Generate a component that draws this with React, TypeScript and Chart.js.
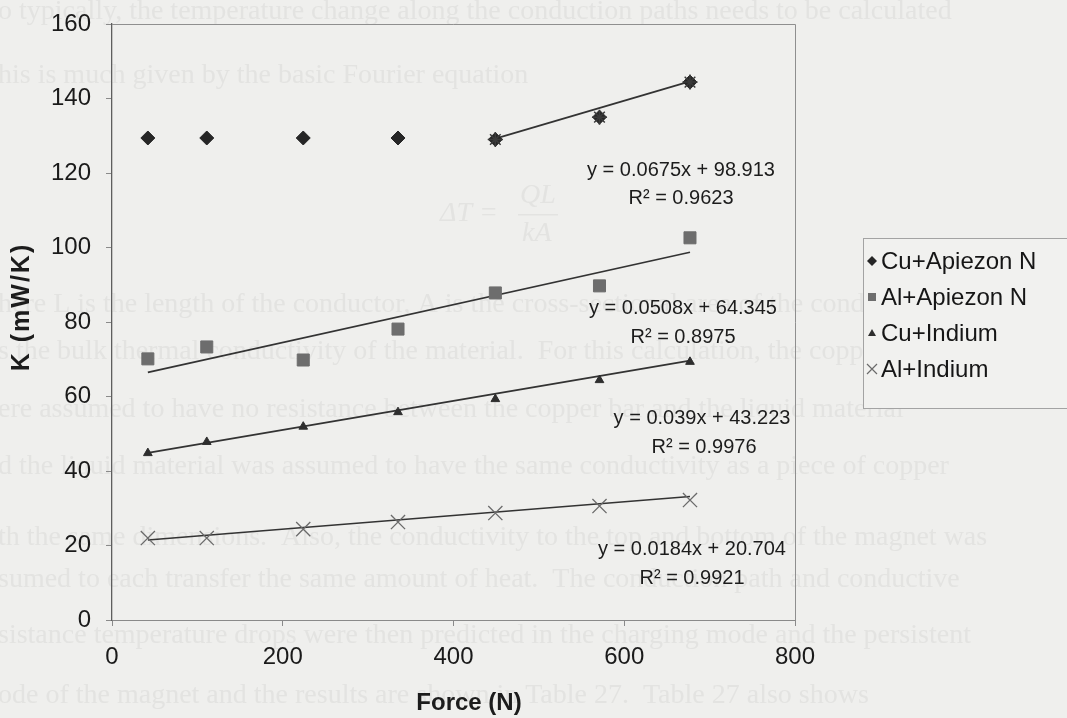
import React, { useEffect, useRef } from "react";
import { Chart, registerables } from "chart.js";

Chart.register(...registerables);

// ---------------- data ----------------
const seriesNames = ["Cu+Apiezon N", "Al+Apiezon N", "Cu+Indium", "Al+Indium"];
const forceN = [42, 111, 224, 335, 449, 571, 677];
const cuApiezon = [129.4, 129.4, 129.4, 129.4, 129.0, 135.0, 144.4];
const alApiezon = [70.1, 73.3, 69.8, 78.1, 87.8, 89.7, 102.6];
const cuIndium = [44.8, 47.8, 51.9, 55.8, 59.3, 64.4, 69.3];
const alIndium = [22.0, 22.0, 24.4, 26.3, 28.7, 30.6, 32.2];
const trendSlopes = [0.0675, 0.0508, 0.039, 0.0184];
const trendIntercepts = [98.913, 64.345, 43.223, 20.704];
const trendRSquared = ["0.9623", "0.8975", "0.9976", "0.9921"];
const trendStartIndex = [4, 0, 0, 0];
const xTickMin = 0;
const xTickMax = 800;
const xTickStep = 200;
const yTickMin = 0;
const yTickMax = 160;
const yTickStep = 20;
const xTitle = "Force (N)";
const yTitle = "K (mW/K)";

// ---------------- styling ----------------
const SANS = "'Liberation Sans', Arial, Helvetica, sans-serif";
const SERIF = "'Liberation Serif', 'Times New Roman', serif";
const BG = "#efefed";
const seriesValues = [cuApiezon, alApiezon, cuIndium, alIndium];
const seriesStyle = [
  { pointStyle: "rectRot", radius: 7, fill: "#262626", stroke: "#262626", width: 1 },
  { pointStyle: "rect", radius: 8.5, fill: "#6d6d6d", stroke: "#6d6d6d", width: 1 },
  { pointStyle: "triangle", radius: 5, fill: "#2e2e2e", stroke: "#2e2e2e", width: 1 },
  { pointStyle: "crossRot", radius: 10, fill: "#6a6a6a", stroke: "#6a6a6a", width: 1.3 },
];
// label centres (pixels) for the trendline equations
const eqPos = [
  { x: 681, y: 170, rx: 681, ry: 198 },
  { x: 683, y: 308, rx: 683, ry: 337 },
  { x: 702, y: 418, rx: 704, ry: 447 },
  { x: 692, y: 549, rx: 692, ry: 578 },
];
// faint show-through text of the scanned page
const pageText = [
  { t: "o typically, the temperature change along the conduction paths needs to be calculated", x: -2, y: 12 },
  { t: "his is much given by the basic Fourier equation", x: -2, y: 76 },
  { t: "here L is the length of the conductor, A is the cross-sectional area of the conductor, and", x: -2, y: 305 },
  { t: "s the bulk thermal conductivity of the material.  For this calculation, the copper bars", x: -2, y: 352 },
  { t: "ere assumed to have no resistance between the copper bar and the liquid material", x: -2, y: 410 },
  { t: "d the liquid material was assumed to have the same conductivity as a piece of copper", x: -2, y: 467 },
  { t: "th the same dimensions.  Also, the conductivity to the top and bottom of the magnet was", x: -2, y: 538 },
  { t: "sumed to each transfer the same amount of heat.  The conduction path and conductive", x: -2, y: 580 },
  { t: "sistance temperature drops were then predicted in the charging mode and the persistent", x: -2, y: 636 },
  { t: "ode of the magnet and the results are shown in Table 27.  Table 27 also shows", x: -2, y: 696 },
];

function drawLegendMarker(ctx: CanvasRenderingContext2D, i: number, x: number, y: number) {
  const s = seriesStyle[i];
  ctx.save();
  ctx.fillStyle = s.fill;
  ctx.strokeStyle = s.stroke;
  ctx.lineWidth = 1.2;
  ctx.beginPath();
  if (i === 0) {
    ctx.moveTo(x, y - 5);
    ctx.lineTo(x + 5, y);
    ctx.lineTo(x, y + 5);
    ctx.lineTo(x - 5, y);
    ctx.closePath();
    ctx.fill();
  } else if (i === 1) {
    ctx.rect(x - 4, y - 4, 8, 8);
    ctx.fill();
  } else if (i === 2) {
    ctx.moveTo(x, y - 4);
    ctx.lineTo(x + 4, y + 3);
    ctx.lineTo(x - 4, y + 3);
    ctx.closePath();
    ctx.fill();
  } else {
    ctx.moveTo(x - 5, y - 5);
    ctx.lineTo(x + 5, y + 5);
    ctx.moveTo(x + 5, y - 5);
    ctx.lineTo(x - 5, y + 5);
    ctx.stroke();
  }
  ctx.restore();
}

const decorPlugin = {
  id: "decor",
  beforeDraw(chart: any) {
    const ctx: CanvasRenderingContext2D = chart.ctx;
    ctx.save();
    ctx.fillStyle = BG;
    ctx.fillRect(0, 0, chart.width, chart.height);
    ctx.fillStyle = "#e3e3e1";
    ctx.font = `28px ${SERIF}`;
    ctx.textBaseline = "middle";
    ctx.textAlign = "left";
    pageText.forEach((l) => ctx.fillText(l.t, l.x, l.y));
    // formula
    ctx.font = `italic 28px ${SERIF}`;
    ctx.fillText("\u0394T =", 440, 214);
    ctx.fillText("QL", 520, 196);
    ctx.fillText("kA", 522, 234);
    ctx.fillRect(518, 214, 40, 1.5);
    ctx.restore();
  },
  afterDraw(chart: any) {
    const ctx: CanvasRenderingContext2D = chart.ctx;
    const a = chart.chartArea;
    ctx.save();
    // top and right frame of the plot area
    ctx.strokeStyle = "#8f8f8f";
    ctx.lineWidth = 1;
    ctx.beginPath();
    ctx.moveTo(a.left, Math.round(a.top) + 0.5);
    ctx.lineTo(Math.round(a.right) + 0.5, Math.round(a.top) + 0.5);
    ctx.lineTo(Math.round(a.right) + 0.5, a.bottom);
    ctx.stroke();

    // trendline equations
    ctx.fillStyle = "#1c1c1c";
    ctx.font = `20px ${SANS}`;
    ctx.textAlign = "center";
    ctx.textBaseline = "middle";
    trendSlopes.forEach((m, i) => {
      const p = eqPos[i];
      ctx.fillText(`y = ${m}x + ${trendIntercepts[i]}`, p.x, p.y);
      ctx.fillText(`R\u00B2 = ${trendRSquared[i]}`, p.rx, p.ry);
    });

    // axis titles
    ctx.font = `bold 24px ${SANS}`;
    ctx.fillText(xTitle, 469, 703);
    ctx.save();
    ctx.translate(22, 307);
    ctx.rotate(-Math.PI / 2);
    ctx.font = `bold 25px ${SANS}`;
    (ctx as any).letterSpacing = "2px";
    ctx.fillText(yTitle, 0, 0);
    ctx.restore();

    // legend
    ctx.fillStyle = "#f1f1ef";
    ctx.fillRect(863, 238, 230, 170);
    ctx.strokeStyle = "#a3a3a3";
    ctx.strokeRect(863.5, 238.5, 230, 170);
    ctx.font = `24px ${SANS}`;
    ctx.textAlign = "left";
    ctx.fillStyle = "#161616";
    seriesNames.forEach((n, i) => {
      const y = 261 + i * 36;
      drawLegendMarker(ctx, i, 872, y);
      ctx.fillText(n, 881, y + 1);
    });
    ctx.restore();
  },
};

export default function App() {
  const ref = useRef<HTMLCanvasElement | null>(null);

  useEffect(() => {
    if (!ref.current) return;
    const last = forceN.length - 1;
    const markerSets: any[] = seriesValues.map((vals, i) => ({
      label: seriesNames[i],
      data: forceN.map((x, k) => ({ x, y: vals[k] })),
      showLine: false,
      pointStyle: seriesStyle[i].pointStyle,
      pointRadius: seriesStyle[i].radius,
      pointHoverRadius: seriesStyle[i].radius,
      pointBackgroundColor: seriesStyle[i].fill,
      pointBorderColor: seriesStyle[i].stroke,
      pointBorderWidth: seriesStyle[i].width,
      order: 1,
    }));
    // the fitted subset of Cu+Apiezon N is also shown with star markers
    const fitSubset: any = {
      label: "fit subset",
      data: forceN.slice(trendStartIndex[0]).map((x, k) => ({ x, y: cuApiezon[trendStartIndex[0] + k] })),
      showLine: false,
      pointStyle: "star",
      pointRadius: 7.5,
      pointBorderColor: "#3a3a3a",
      pointBorderWidth: 1.5,
      pointBackgroundColor: "#3a3a3a",
      order: 0,
    };
    const trendSets: any[] = trendSlopes.map((m, i) => {
      const x0 = forceN[trendStartIndex[i]];
      const x1 = forceN[last];
      return {
        label: `trend ${i}`,
        data: [
          { x: x0, y: m * x0 + trendIntercepts[i] },
          { x: x1, y: m * x1 + trendIntercepts[i] },
        ],
        showLine: true,
        pointRadius: 0,
        borderColor: "#333333",
        borderWidth: 1.7,
        order: 2,
      };
    });

    const chart = new Chart(ref.current, {
      type: "scatter",
      data: { datasets: [fitSubset, ...markerSets, ...trendSets] },
      plugins: [decorPlugin as any],
      options: {
        animation: false,
        responsive: false,
        maintainAspectRatio: false,
        layout: { padding: { left: 0, right: 272, top: 24, bottom: 0 } },
        plugins: {
          legend: { display: false },
          tooltip: { enabled: false },
          title: { display: false },
        },
        scales: {
          x: {
            type: "linear",
            min: xTickMin,
            max: xTickMax,
            ticks: {
              stepSize: xTickStep,
              color: "#1a1a1a",
              font: { family: SANS, size: 24 },
              padding: 17,
              maxRotation: 0,
            },
            grid: { drawOnChartArea: false, drawTicks: true, tickLength: 6, color: "#8a8a8a" },
            border: { display: true, color: "#8a8a8a", width: 1 },
            afterFit: (s: any) => {
              s.height = 98;
              s.paddingLeft = 0;
              s.paddingRight = 0;
            },
          },
          y: {
            type: "linear",
            min: yTickMin,
            max: yTickMax,
            ticks: {
              stepSize: yTickStep,
              color: "#1a1a1a",
              font: { family: SANS, size: 24 },
              padding: 15,
            },
            grid: { drawOnChartArea: false, drawTicks: true, tickLength: 6, color: "#8a8a8a" },
            border: { display: true, color: "#5e5e5e", width: 1.3 },
            afterFit: (s: any) => {
              s.width = 112;
              s.paddingTop = 0;
              s.paddingBottom = 0;
            },
          },
        },
      } as any,
    });
    return () => chart.destroy();
  }, []);

  return (
    <div style={{ position: "fixed", left: 0, top: 0, width: 1067, height: 718, background: BG }}>
      <canvas ref={ref} width={1067} height={718} style={{ display: "block", width: 1067, height: 718 }} />
    </div>
  );
}
